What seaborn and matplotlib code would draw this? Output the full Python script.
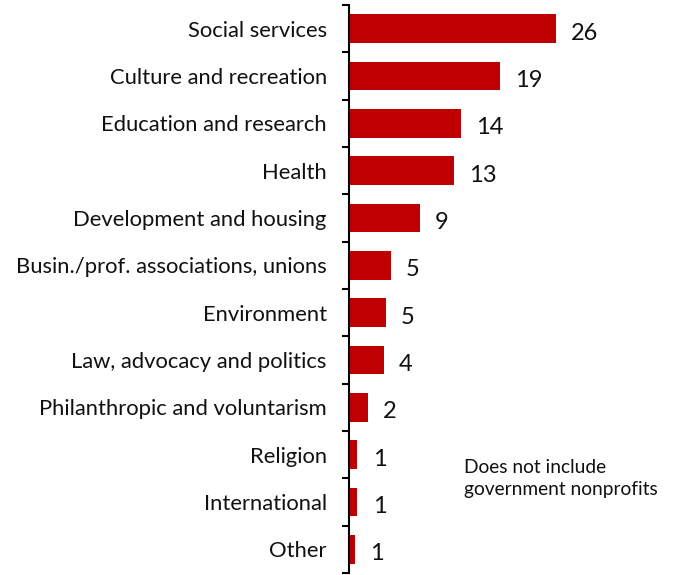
import matplotlib
matplotlib.use("Agg")
import matplotlib.pyplot as plt
import seaborn as sns
import pandas as pd
import numpy as np

categories = ["Social services", "Culture and recreation", "Education and research",
              "Health", "Development and housing", "Busin./prof. associations, unions",
              "Environment", "Law, advocacy and politics", "Philanthropic and voluntarism",
              "Religion", "International", "Other"]
values = [26.0, 19.0, 14.05, 13.2, 8.9, 5.25, 4.6, 4.35, 2.4, 1.05, 1.05, 0.7]
labels = ["26", "19", "14", "13", "9", "5", "5", "4", "2", "1", "1", "1"]
note = "Does not include\ngovernment nonprofits"

sns.set_theme(style="white")
plt.rcParams['font.family'] = ['Lato', 'DejaVu Sans']

df = pd.DataFrame({"category": categories, "value": values})

W, H = 676, 575
fig = plt.figure(figsize=(W / 100, H / 100), dpi=100)
ax_left, ax_top, ax_bottom = 349, 5, 573
ax = fig.add_axes([ax_left / W, (H - ax_bottom) / H, (W - ax_left) / W, (ax_bottom - ax_top) / H])

sns.barplot(data=df, x="value", y="category", orient="h", color="#C00000",
            width=0.6, saturation=1, ax=ax, edgecolor="none")

px_per_unit = 7.95
ax.set_xlim(0, (W - ax_left) / px_per_unit)
ax.set_ylim(len(categories) - 0.5, -0.5)

ann = ax.bar_label(ax.containers[0], labels=labels, padding=11, fontsize=17, color="#111111")
for t in ann:
    t.set_va("center")
    t.xyann = (11, -3.3)

for s in ["top", "right", "bottom"]:
    ax.spines[s].set_visible(False)
ax.spines["left"].set_linewidth(1.5)
ax.spines["left"].set_color("black")

ax.set_xticks([])
ax.set_xlabel("")
ax.set_ylabel("")
ax.tick_params(axis="y", which="major", length=0, pad=16, labelsize=15.8, labelcolor="#111111")
ax.set_yticks(np.arange(-0.5, len(categories), 1.0), minor=True)
ax.tick_params(axis="y", which="minor", length=5, width=1.5, color="black", left=True)

ax.text((464 - ax_left) / px_per_unit, 9.1, note, ha="left", va="top",
        fontsize=13.8, color="#111111", linespacing=1.3)

fig.savefig("out.png", dpi=100)
